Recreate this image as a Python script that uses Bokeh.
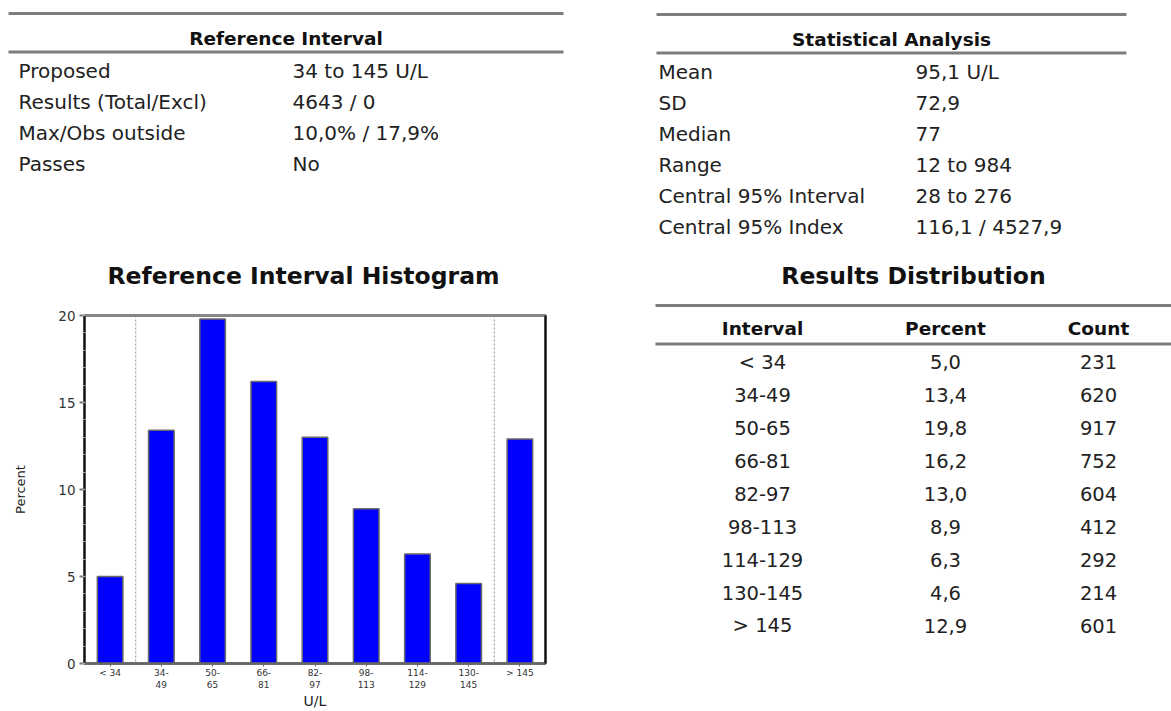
from bokeh.plotting import figure
from bokeh.layouts import row, column
from bokeh.models import Range1d, FixedTicker, LinearAxis, Span
from bokeh.core.properties import value
from bokeh.embed import file_html
from bokeh.resources import INLINE

# ---------------- data ----------------
ref_title = "Reference Interval"
ref_labels = ["Proposed", "Results (Total/Excl)", "Max/Obs outside", "Passes"]
ref_values = ["34 to 145 U/L", "4643 / 0", "10,0% / 17,9%", "No"]

stat_title = "Statistical Analysis"
stat_labels = ["Mean", "SD", "Median", "Range", "Central 95% Interval", "Central 95% Index"]
stat_values = ["95,1 U/L", "72,9", "77", "12 to 984", "28 to 276", "116,1 / 4527,9"]

hist_title = "Reference Interval Histogram"
dist_title = "Results Distribution"
dist_headers = ["Interval", "Percent", "Count"]
intervals = ["< 34", "34-49", "50-65", "66-81", "82-97", "98-113", "114-129", "130-145", "> 145"]
percents = [5.0, 13.4, 19.8, 16.2, 13.0, 8.9, 6.3, 4.6, 12.9]
counts = [231, 620, 917, 752, 604, 412, 292, 214, 601]
y_ticks = [0, 5, 10, 15, 20]
x_axis_label = "U/L"
y_axis_label = "Percent"

FONT = value("DejaVu Sans")
LINE_GREY = "#7d7d7d"
TXT = "#222222"

W, H = 1171, 711
TOP_H = 307            # height of the top band figure
FRAME_TOP, FRAME_BOTTOM = 315, 664   # histogram frame (page pixels)
LEFT_W = 585


def blank(w, h, x0, x1, y0, y1):
    f = figure(width=w, height=h, x_range=Range1d(x0, x1), y_range=Range1d(y1, y0),
               output_backend="svg", toolbar_location=None, min_border=0,
               x_axis_type=None, y_axis_type=None)
    f.outline_line_color = None
    f.background_fill_color = "white"
    f.border_fill_color = "white"
    return f


def table(f, title, labels, values, x_left, x_right, x_lab, x_val, y_top):
    f.segment(x0=[x_left, x_left], x1=[x_right, x_right], y0=[y_top, y_top + 38.5],
              y1=[y_top, y_top + 38.5], line_color=LINE_GREY, line_width=3)
    f.text(x=[(x_left + x_right) / 2], y=[y_top + 24.5], text=[title], text_font=FONT,
           text_font_style="bold", text_font_size="18.5px", text_align="center",
           text_baseline="middle", text_color="#111111")
    ys = [y_top + 57 + 31 * i for i in range(len(labels))]
    f.text(x=[x_lab] * len(labels), y=ys, text=labels, text_font=FONT, text_font_size="20px",
           text_align="left", text_baseline="middle", text_color=TXT)
    f.text(x=[x_val] * len(values), y=ys, text=values, text_font=FONT, text_font_size="20px",
           text_align="left", text_baseline="middle", text_color=TXT)


# ---------------- top band: both summary tables + the two section titles ----------------
top = blank(W, TOP_H, 0, W, 0, TOP_H)
table(top, ref_title, ref_labels, ref_values, 8, 563, 18, 292, 13)
table(top, stat_title, stat_labels, stat_values, 656, 1126, 658, 915, 14)
top.text(x=[303, 913], y=[275, 275], text=[hist_title, dist_title], text_font=FONT,
         text_font_style="bold", text_font_size="23.5px", text_align="center",
         text_baseline="middle", text_color="#111111")
# top rule of the results distribution table
top.segment(x0=[655], x1=[W], y0=[305], y1=[305], line_color=LINE_GREY, line_width=3)

# ---------------- histogram ----------------
xs = list(range(len(intervals)))
hp = figure(width=LEFT_W, height=H - TOP_H, x_range=Range1d(-0.5, len(intervals) - 0.5),
            y_range=Range1d(0, 20), output_backend="svg", toolbar_location=None,
            min_border_left=84, min_border_right=40, min_border_top=FRAME_TOP - TOP_H,
            min_border_bottom=H - FRAME_BOTTOM)
hp.background_fill_color = "white"
hp.border_fill_color = "white"
hp.grid.visible = False
hp.outline_line_color = "#888888"
hp.outline_line_width = 3

hp.vbar(x=xs, top=percents, width=0.5, fill_color="#0000ff", line_color="#6a6a6a", line_width=1.5)
for b in (0.5, len(intervals) - 1.5):
    hp.add_layout(Span(location=b, dimension="height", line_color="#8a8a8a",
                       line_dash="2 2", line_width=1))

xa = hp.xaxis[0]
xa.ticker = FixedTicker(ticks=xs)
xa.major_label_overrides = {i: lab.replace("-", "-\n") for i, lab in enumerate(intervals)}
xa.major_label_text_font = "DejaVu Sans"
xa.major_label_text_font_size = "9px"
xa.major_label_text_color = "#333333"
xa.major_label_standoff = 1
xa.major_tick_out = 3
xa.major_tick_in = 0
xa.major_tick_line_color = "#666666"
xa.minor_tick_line_color = None
xa.axis_line_color = "#666666"
xa.axis_line_width = 2.5
xa.axis_label = x_axis_label
xa.axis_label_text_font = "DejaVu Sans"
xa.axis_label_text_font_size = "14px"
xa.axis_label_text_font_style = "normal"
xa.axis_label_text_color = "#222222"
xa.axis_label_standoff = 0

ya = hp.yaxis[0]
ya.ticker = FixedTicker(ticks=y_ticks, minor_ticks=list(range(0, 21)))
ya.major_label_text_font = "DejaVu Sans"
ya.major_label_text_font_size = "13.5px"
ya.major_label_text_color = "#333333"
ya.major_label_standoff = 4
ya.major_tick_out = 5
ya.major_tick_in = 0
ya.major_tick_line_color = "#777777"
ya.major_tick_line_width = 2
ya.minor_tick_out = 2
ya.minor_tick_in = 1
ya.minor_tick_line_color = "#aaaaaa"
ya.axis_line_color = "#111111"
ya.axis_line_width = 2
ya.axis_label = y_axis_label
ya.axis_label_text_font = "DejaVu Sans"
ya.axis_label_text_font_size = "13px"
ya.axis_label_text_font_style = "normal"
ya.axis_label_text_color = "#222222"
ya.axis_label_standoff = 27

ra = LinearAxis(ticker=FixedTicker(ticks=[]), major_label_text_font_size="0px",
                major_tick_out=0, major_tick_in=0, minor_tick_out=0, minor_tick_in=0,
                axis_line_color="#111111", axis_line_width=2)
hp.add_layout(ra, "right")

# ---------------- results distribution table ----------------
# the row aligns this figure's frame to the histogram frame (page y 315..664)
br = blank(W - LEFT_W, H - TOP_H, LEFT_W, W, FRAME_TOP, FRAME_BOTTOM)
col_x = [762, 945, 1098]
br.segment(x0=[655], x1=[W], y0=[343.5], y1=[343.5], line_color=LINE_GREY, line_width=3)
br.text(x=col_x, y=[328] * 3, text=dist_headers, text_font=FONT, text_font_style="bold",
        text_font_size="18.5px", text_align="center", text_baseline="middle", text_color="#111111")
row_y = [362 + 33 * i for i in range(len(intervals))]
pct_txt = [f"{v:.1f}".replace(".", ",") for v in percents]
cnt_txt = [str(c) for c in counts]
for cx, col_txt in zip(col_x, [intervals, pct_txt, cnt_txt]):
    br.text(x=[cx] * len(col_txt), y=row_y, text=col_txt, text_font=FONT, text_font_size="19.5px",
            text_align="center", text_baseline="middle", text_color=TXT)

layout = column(top, row(hp, br, spacing=0), spacing=0)

open("out.html", "w").write(file_html(layout, INLINE))
